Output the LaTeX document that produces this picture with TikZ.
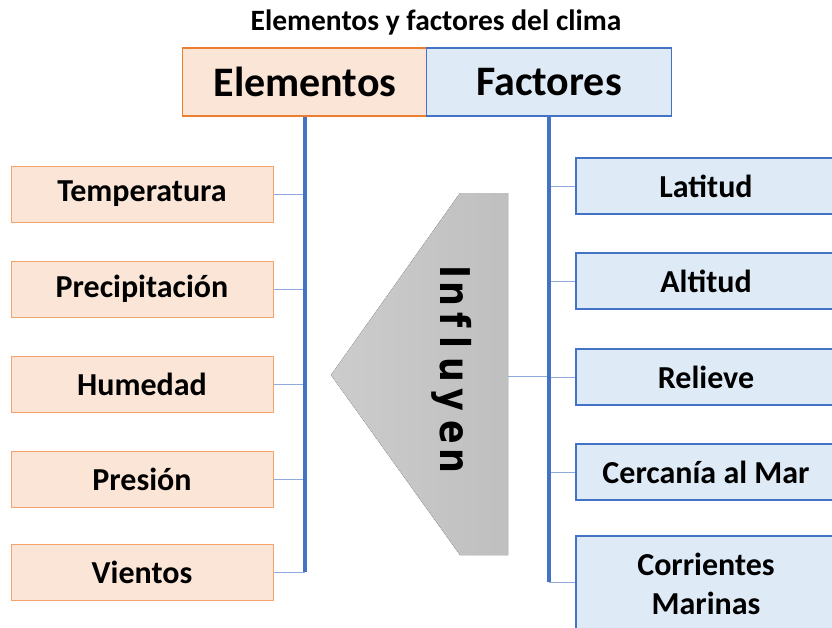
\documentclass[tikz,border=0pt]{standalone}
\usepackage{fontspec}
\setmainfont{Carlito}
\newfontfamily\influfont{DejaVu Sans}
\usetikzlibrary{positioning}
\definecolor{naranja}{HTML}{ED7D31}
\definecolor{naranjaclaro}{HTML}{F4A46A}
\definecolor{rellenonar}{HTML}{FBE5D6}
\definecolor{azul}{HTML}{4472C4}
\definecolor{rellenoaz}{HTML}{DEEBF7}
\definecolor{azulclaro}{HTML}{8FAADC}
\tikzset{
	cabecera/.style = {draw, line width = 1.5pt, minimum width = 245pt, minimum height = 68pt, inner sep = 0pt, font = \bfseries\fontsize{42}{44}\selectfont},
	elemento/.style = {draw = naranjaclaro, fill = rellenonar, line width = 1pt, minimum width = 262pt, minimum height = 56pt, inner sep = 0pt, font = \bfseries\fontsize{32}{34}\selectfont},
	factor/.style = {draw = azul, fill = rellenoaz, line width = 1.5pt, minimum width = 260pt, minimum height = 56pt, inner sep = 0pt, align = center, font = \bfseries\fontsize{32}{39}\selectfont},
	tronco/.style = {azul, line width = 4pt},
	rama/.style = {azulclaro, line width = 1pt}
}
\begin{document}
\begin{tikzpicture}[x = 1pt, y = -1pt]
	\useasboundingbox [fill = white] (0,0) rectangle (832,627);
	\clip (0,0) rectangle (832,627);
	\node [font = \bfseries\fontsize{29.5}{32}\selectfont] (titulo) at (436,22) {Elementos y factores del clima};
	% cabeceras
	\node [cabecera, draw = naranja, fill = rellenonar] (elem) at (305,82) {Elementos};
	\node [cabecera, draw = azul, fill = rellenoaz] (fac) at (549,82) {Factores};
	% elementos
	\node [elemento] (tem) at (142,194) {Temperatura};
	\node [elemento] (pre) at (142,289) {Precipitación};
	\node [elemento] (hum) at (142,384) {Humedad};
	\node [elemento] (pres) at (142,479) {Presión};
	\node [elemento] (vie) at (142,572) {Vientos};
	% factores
	\node [factor] (lat) at (706,186) {Latitud};
	\node [factor] (alt) at (706,281) {Altitud};
	\node [factor] (rel) at (706,377) {Relieve};
	\node [factor] (cer) at (706,472) {Cercanía al Mar};
	\node [factor, minimum height = 96pt] (cor) at (706,584) {Corrientes\\Marinas};
	% flecha
	\fill [left color = gray!40, right color = gray!50] (331,375) -- (460,193) -- (508,193) -- (508,555) -- (460,555) -- cycle;
	\coordinate (flecha) at (508,376);
	\foreach \y/\letra in {272/I, 294/n, 320/f, 342/l, 370/u, 400/y, 432/e, 461/n}
		\node [rotate = -90, anchor = base, inner sep = 0pt, font = \influfont\bfseries\fontsize{41}{41}\selectfont] at (440,\y) {\scalebox{0.85}[1]{\letra}};
	% ramas
	\foreach \n in {tem, pre, hum, pres, vie}
		\draw [rama] (\n.east) -- (\n.east -| elem.south);
	\foreach \n in {lat, alt, rel, cer}
		\draw [rama] (\n.west) -- (\n.west -| fac.south);
	\draw [rama] (cor.west |- 0,582) -- (fac.south |- 0,582);
	\draw [rama] (flecha) -- (flecha -| fac.south);
	% troncos
	\draw [tronco] (elem.south) -- (elem.south |- vie.east);
	\draw [tronco] (fac.south) -- (fac.south |- 0,582);
\end{tikzpicture}
\end{document}
